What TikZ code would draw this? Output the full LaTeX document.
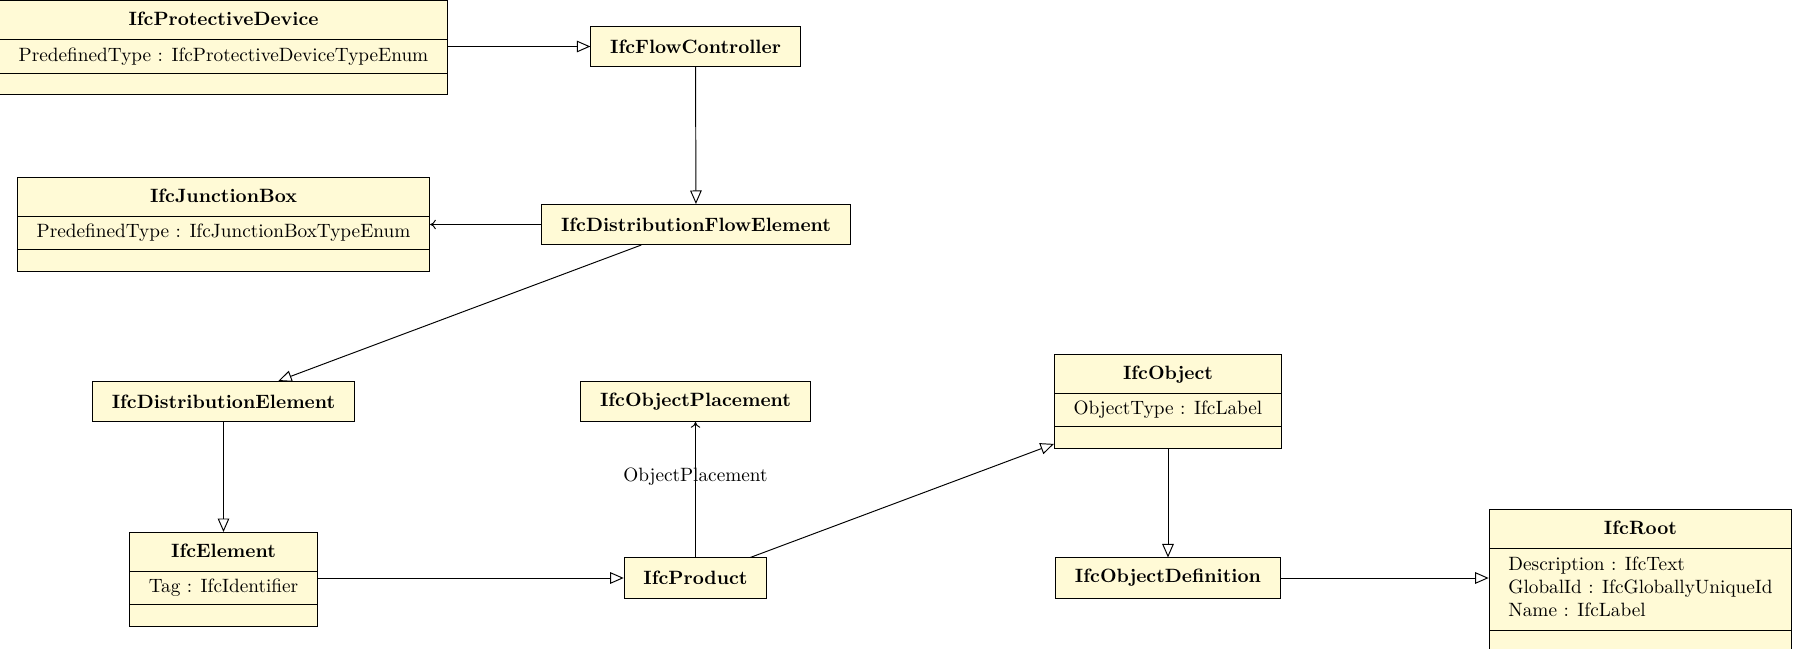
\documentclass[tikz,border=0pt]{standalone}
\usepackage{tikz}
\usetikzlibrary{arrows.meta,shapes.multipart}
\definecolor{classfill}{RGB}{255,250,214}
\newcommand{\titlestrut}{\rule[-4pt]{0pt}{13.6pt}}
\newcommand{\attrstrut}{\rule[-3pt]{0pt}{11pt}}

\begin{document}
\begin{tikzpicture}[
  x=0.519pt, y=-0.519pt,
  line width=0.5pt,
  cls/.style={draw, fill=classfill, inner xsep=10pt, inner ysep=3pt,
              minimum height=20.8pt, font=\bfseries},
  clsattr/.style={draw, fill=classfill, rectangle split, rectangle split parts=3,
              rectangle split part align={center,left,center},
              rectangle split empty part height=4.5pt,
              inner xsep=10pt, inner ysep=3pt},
  gen/.style={-{Triangle[open, length=7pt, width=6pt]}},
  assoc/.style={-{To[length=3pt, width=5pt]}}
]
\useasboundingbox (0,0) rectangle (1793,649);

% ---------- left column ----------
\node[clsattr, anchor=north] (pd) at (223.5,0.5) {\textbf{IfcProtectiveDevice}\titlestrut
  \nodepart{two} PredefinedType : IfcProtectiveDeviceTypeEnum\attrstrut
  \nodepart{three}};
\node[clsattr, anchor=north] (jb) at (223.5,177) {\textbf{IfcJunctionBox}\titlestrut
  \nodepart{two} PredefinedType : IfcJunctionBoxTypeEnum\attrstrut
  \nodepart{three}};
\node[cls] (de) at (223.5,401.5) {IfcDistributionElement};
\node[clsattr, anchor=north] (el) at (223.5,532) {\textbf{IfcElement}\titlestrut
  \nodepart{two} Tag : IfcIdentifier\attrstrut
  \nodepart{three}};

% ---------- middle column ----------
\node[cls] (fc) at (695.5,46.5) {IfcFlowController};
\node[cls] (dfe) at (696,224.5) {IfcDistributionFlowElement};
\node[cls] (op) at (695.5,401.5) {IfcObjectPlacement};
\node[cls] (prod) at (695.5,578) {IfcProduct};

% ---------- right columns ----------
\node[clsattr, anchor=north] (obj) at (1168,354) {\textbf{IfcObject}\titlestrut
  \nodepart{two} ObjectType : IfcLabel\attrstrut
  \nodepart{three}};
\node[cls] (od) at (1168,578) {IfcObjectDefinition};
\node[clsattr, anchor=north] (root) at (1640.5,509) {\textbf{IfcRoot}\titlestrut
  \nodepart{two} \begin{tabular}{@{}l@{}}Description : IfcText\\
    GlobalId : IfcGloballyUniqueId\\ Name : IfcLabel\end{tabular}
  \nodepart{three}};

% ---------- connectors ----------
\draw[gen] (pd.east |- fc.west) -- (fc.west);
\draw[gen] (fc) -- (dfe);
\draw[assoc] (dfe.west) -- (jb.east |- dfe.west);
\draw[gen] (dfe) -- (de);
\draw[gen] (de) -- (el);
\draw[gen] (el.east |- prod.west) -- (prod.west);
\draw[assoc] (prod) -- node[pos=0.6] {ObjectPlacement} (op);
\draw[gen] (prod) -- (obj);
\draw[gen] (obj) -- (od);
\draw[gen] (od.east) -- (root.west |- od.east);

\end{tikzpicture}
\end{document}
